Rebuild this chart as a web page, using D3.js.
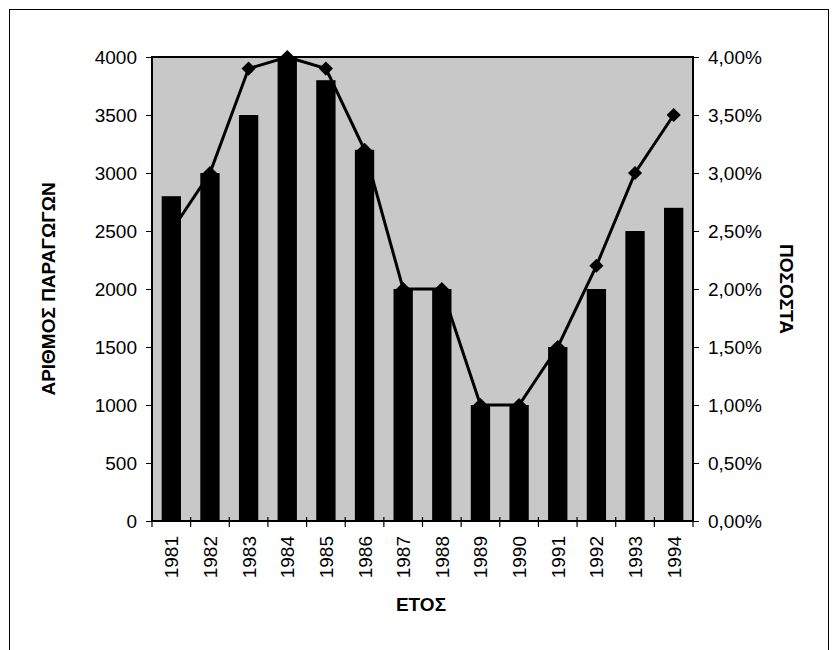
<!DOCTYPE html>
<html>
<head>
<meta charset="utf-8">
<script src="https://cdn.jsdelivr.net/npm/d3@7"></script>
<style>
  html, body { margin: 0; padding: 0; background: #fff; }
  svg { display: block; font-family: Arial, "Liberation Sans", sans-serif; }
</style>
</head>
<body>
<script>
const years = ["1981","1982","1983","1984","1985","1986","1987","1988","1989","1990","1991","1992","1993","1994"];
const producers = [2800, 3000, 3500, 4000, 3800, 3200, 2000, 2000, 1000, 1000, 1500, 2000, 2500, 2700];
const percents = [0.025, 0.030, 0.039, 0.040, 0.039, 0.032, 0.020, 0.020, 0.010, 0.010, 0.015, 0.022, 0.030, 0.035];
const leftTicks = [0, 500, 1000, 1500, 2000, 2500, 3000, 3500, 4000];
const rightTicks = [0, 0.005, 0.01, 0.015, 0.02, 0.025, 0.03, 0.035, 0.04];
const leftTitle = "ΑΡΙΘΜΟΣ ΠΑΡΑΓΩΓΩΝ";
const rightTitle = "ΠΟΣΟΣΤΑ";
const xTitle = "ΕΤΟΣ";

const W = 835, H = 650;
const plot = {left: 152, right: 693, top: 57, bottom: 521};
const FS = 19;

const svg = d3.select("body").append("svg").attr("width", W).attr("height", H);

// outer frame
svg.append("rect").attr("x", 9.5).attr("y", 9.5).attr("width", 819).attr("height", 660)
  .attr("fill", "none").attr("stroke", "#000").attr("stroke-width", 1);

const x = d3.scaleBand().domain(years).range([plot.left, plot.right]).paddingInner(0).paddingOuter(0);
const yL = d3.scaleLinear().domain([0, 4000]).range([plot.bottom, plot.top]);
const yR = d3.scaleLinear().domain([0, 0.04]).range([plot.bottom, plot.top]);

// plot background
svg.append("rect").attr("x", plot.left).attr("y", plot.top)
  .attr("width", plot.right - plot.left).attr("height", plot.bottom - plot.top)
  .attr("fill", "#c8c8c8");

// bars
const bw = x.bandwidth() * 0.5;
svg.append("g").selectAll("rect").data(years).join("rect")
  .attr("x", d => x(d) + (x.bandwidth() - bw) / 2)
  .attr("width", bw)
  .attr("y", (d, i) => yL(producers[i]))
  .attr("height", (d, i) => yL(0) - yL(producers[i]))
  .attr("fill", "#000");

// plot border
svg.append("rect").attr("x", plot.left).attr("y", plot.top)
  .attr("width", plot.right - plot.left).attr("height", plot.bottom - plot.top)
  .attr("fill", "none").attr("stroke", "#000").attr("stroke-width", 2);

// line
const line = d3.line().x((d, i) => x(years[i]) + x.bandwidth() / 2).y(d => yR(d));
svg.append("path").datum(percents).attr("d", line)
  .attr("fill", "none").attr("stroke", "#000").attr("stroke-width", 3).attr("stroke-linejoin", "miter");

// markers (diamonds)
svg.append("g").selectAll("path").data(percents).join("path")
  .attr("d", d3.symbol().type(d3.symbolSquare).size(100))
  .attr("transform", (d, i) => `translate(${x(years[i]) + x.bandwidth() / 2},${yR(d)}) rotate(45)`)
  .attr("fill", "#000");

// left axis
const axL = svg.append("g").attr("transform", `translate(${plot.left},0)`)
  .call(d3.axisLeft(yL).tickValues(leftTicks).tickSize(6).tickPadding(9).tickFormat(d3.format("d")));
axL.select(".domain").remove();
axL.selectAll("line").attr("stroke", "#000");
axL.selectAll("text").attr("font-size", FS).attr("fill", "#000");

// right axis
const fmtPct = d => (d * 100).toFixed(2).replace(".", ",") + "%";
const axR = svg.append("g").attr("transform", `translate(${plot.right},0)`)
  .call(d3.axisRight(yR).tickValues(rightTicks).tickSize(6).tickPadding(9).tickFormat(fmtPct));
axR.select(".domain").remove();
axR.selectAll("line").attr("stroke", "#000");
axR.selectAll("text").attr("font-size", FS).attr("fill", "#000");

// bottom axis: ticks at band boundaries
const bounds = years.map(d => x(d)).concat([plot.right]);
svg.append("g").selectAll("line").data(bounds).join("line")
  .attr("x1", d => d).attr("x2", d => d)
  .attr("y1", plot.bottom - 4).attr("y2", plot.bottom + 6)
  .attr("stroke", "#000").attr("stroke-width", 1.2);

svg.append("g").selectAll("text").data(years).join("text")
  .attr("transform", d => `translate(${x(d) + x.bandwidth() / 2 + 7},${plot.bottom + 15}) rotate(-90)`)
  .attr("text-anchor", "end")
  .attr("font-size", FS)
  .attr("fill", "#000")
  .text(d => d);

// titles
svg.append("text").attr("transform", `translate(55,${(plot.top + plot.bottom) / 2}) rotate(-90)`)
  .attr("text-anchor", "middle").attr("font-size", FS).attr("font-weight", "bold").text(leftTitle);
svg.append("text").attr("transform", `translate(780,${(plot.top + plot.bottom) / 2}) rotate(90)`)
  .attr("text-anchor", "middle").attr("font-size", FS).attr("font-weight", "bold").text(rightTitle);
svg.append("text").attr("x", 421).attr("y", 611)
  .attr("text-anchor", "middle").attr("font-size", FS).attr("font-weight", "bold").text(xTitle);
</script>
</body>
</html>
